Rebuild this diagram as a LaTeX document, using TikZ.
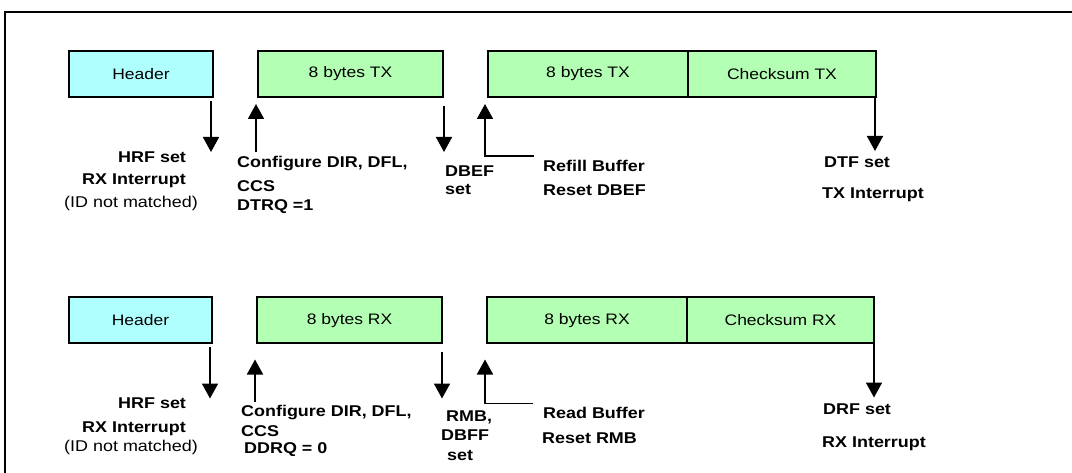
\documentclass[tikz,border=0pt]{standalone}
\usepackage{fontspec}
\setmainfont{Liberation Sans}[FakeStretch=1.15]
\usetikzlibrary{arrows.meta}
\definecolor{hdrcyan}{RGB}{176,255,255}
\definecolor{datagreen}{RGB}{179,255,179}

\begin{document}
\begin{tikzpicture}[x=1pt, y=-1pt,
    fieldbox/.style={draw, line width=2pt, inner sep=0pt, minimum height=46pt,
      font=\fontsize{15.2}{18}\selectfont},
    lbl/.style={anchor=base west, inner sep=0pt, font=\fontsize{15.6}{18}\selectfont\bfseries},
    note/.style={anchor=base west, inner sep=0pt, font=\fontsize{15.6}{18}\selectfont},
    arr/.style={line width=1.8pt, -{Triangle[width=16pt,length=15pt]}}]
  \useasboundingbox (0,0) rectangle (1072,473);
  % Frame (only top and left edges fall inside the page)
  \draw[line width=2pt] (5,473) -- (5,12) -- (1072,12);

  % ---- transmit frame ----
  \node[fieldbox, fill=hdrcyan, minimum width=144pt] (txhdr) at (141,74) {Header};
  \node[fieldbox, fill=datagreen, minimum width=185pt] (txda) at (350.5,74) {8 bytes TX};
  \node[fieldbox, fill=datagreen, minimum width=200pt] (txdb) at (588,74) {8 bytes TX};
  \node[fieldbox, fill=datagreen, minimum width=188pt] (txcs) at (782,74) {Checksum TX};
  \draw[arr] ([xshift=-3pt,yshift=-3pt]txhdr.south east) -- ++(0,51);
  \draw[arr] ([xshift=-1pt,yshift=-54pt]txda.south west) -- ++(0,-48);
  \draw[arr] ([yshift=-8pt]txda.south east) -- ++(0,46);
  \coordinate (txrf) at ([xshift=47pt,yshift=-58pt]txdb.south west);
  \draw[arr] (txrf) -| ([xshift=-2pt,yshift=-6pt]txdb.south west);
  \draw[arr] ([xshift=-2pt]txcs.south east) -- ++(0,53);

  % ---- receive frame ----
  \node[fieldbox, fill=hdrcyan, minimum width=143pt] (rxhdr) at (140.5,320.5) {Header};
  \node[fieldbox, fill=datagreen, minimum width=185pt] (rxda) at (349.5,320.5) {8 bytes RX};
  \node[fieldbox, fill=datagreen, minimum width=200pt] (rxdb) at (587,320.5) {8 bytes RX};
  \node[fieldbox, fill=datagreen, minimum width=187pt] (rxcs) at (780.5,320.5) {Checksum RX};
  \draw[arr] ([xshift=-3pt,yshift=-3pt]rxhdr.south east) -- ++(0,51);
  \draw[arr] ([xshift=-1pt,yshift=-57pt]rxda.south west) -- ++(0,-42);
  \draw[arr] ([xshift=-1pt,yshift=-8pt]rxda.south east) -- ++(0,46);
  \coordinate (rxrb) at ([xshift=47pt,yshift=-59pt]rxdb.south west);
  \draw[arr] (rxrb) -| ([xshift=-1pt,yshift=-15pt]rxdb.south west);
  \draw[arr] ([xshift=-1pt]rxcs.south east) -- ++(0,53);

  % Labels
  \foreach \px/\py/\txt [count=\i] in {
      118/163/HRF set, 82/185/RX Interrupt,
      237/168/{Configure DIR, DFL,}, 237/192/CCS, 237/211/DTRQ =1,
      445/177/DBEF, 445/195/set,
      543/172/Refill Buffer, 543/196/Reset DBEF,
      824/168/DTF set, 822/199/TX Interrupt}
    { \node[lbl] (txl\i) at (\px,\py) {\txt}; }
  \node[note] (txid) at (64,208) {(ID not matched)};
  \foreach \px/\py/\txt [count=\i] in {
      118/408/HRF set, 82/432/RX Interrupt,
      241/416/{Configure DIR, DFL,}, 241/436/CCS, 244/453/DDRQ = 0,
      446/421/{RMB,}, 441/440/DBFF, 447/460/set,
      543/418/Read Buffer, 542/443/Reset RMB,
      823/414/DRF set, 822/447/RX Interrupt}
    { \node[lbl] (rxl\i) at (\px,\py) {\txt}; }
  \node[note] (rxid) at (64,451) {(ID not matched)};
\end{tikzpicture}
\end{document}
